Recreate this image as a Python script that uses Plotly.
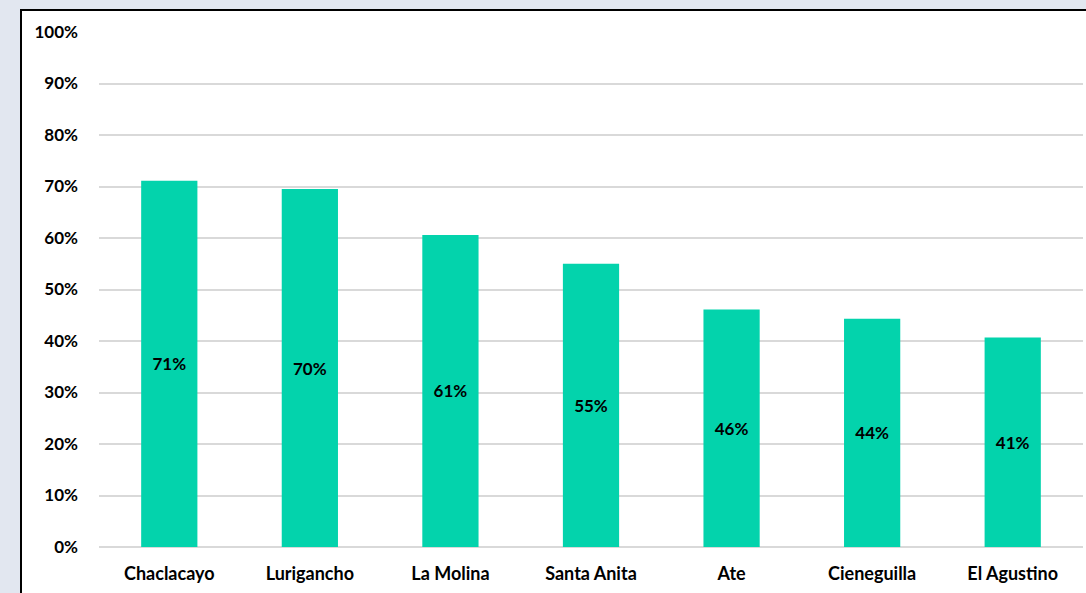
import plotly.graph_objects as go

districts = ["Chaclacayo", "Lurigancho", "La Molina", "Santa Anita", "Ate", "Cieneguilla", "El Agustino"]
shares = [0.711, 0.695, 0.606, 0.550, 0.461, 0.443, 0.407]
y_ticks = [0, 0.1, 0.2, 0.3, 0.4, 0.5, 0.6, 0.7, 0.8, 0.9, 1.0]

W, H = 1086, 593
ml, mr, mt, mb = 99, 3, 32, 46
pw, ph = W - ml - mr, H - mt - mb

fig = go.Figure(go.Bar(
    x=districts, y=shares,
    marker=dict(color="#03D3AC", line=dict(width=0)),
    texttemplate="%{y:.0%}", textposition="inside", insidetextanchor="middle",
    textfont=dict(family="Lato", size=17, color="black", weight="bold"),
    textangle=0,
))

fig.add_shape(type="rect", xref="paper", yref="paper",
              x0=(21 - ml) / pw, x1=1.2, y0=-0.3, y1=1 + (mt - 10) / ph,
              fillcolor="white", line=dict(color="black", width=2), layer="below")

fig.update_layout(
    width=W, height=H,
    margin=dict(l=ml, r=mr, t=mt, b=mb),
    paper_bgcolor="#E2E7F0", plot_bgcolor="white",
    bargap=0.6, showlegend=False,
    font=dict(family="Lato", size=17, color="black", weight="bold"),
)
fig.update_yaxes(range=[0, 1.0], tickvals=y_ticks, tickformat=".0%",
                 gridcolor="#D9D9D9", gridwidth=1.5, zeroline=True, zerolinecolor="#D9D9D9",
                 zerolinewidth=1.5, showline=False, ticks="", ticklabelstandoff=20,
                 tickfont=dict(family="Lato", size=17, color="black", weight="bold"))
fig.update_xaxes(showline=False, ticks="", ticklabelstandoff=14,
                 tickfont=dict(family="Lato", size=18, color="black", weight="bold"))

fig.write_html("out.html", config={"displayModeBar": False},
               post_script="document.body.style.margin='0';document.body.style.background='#E2E7F0';")
